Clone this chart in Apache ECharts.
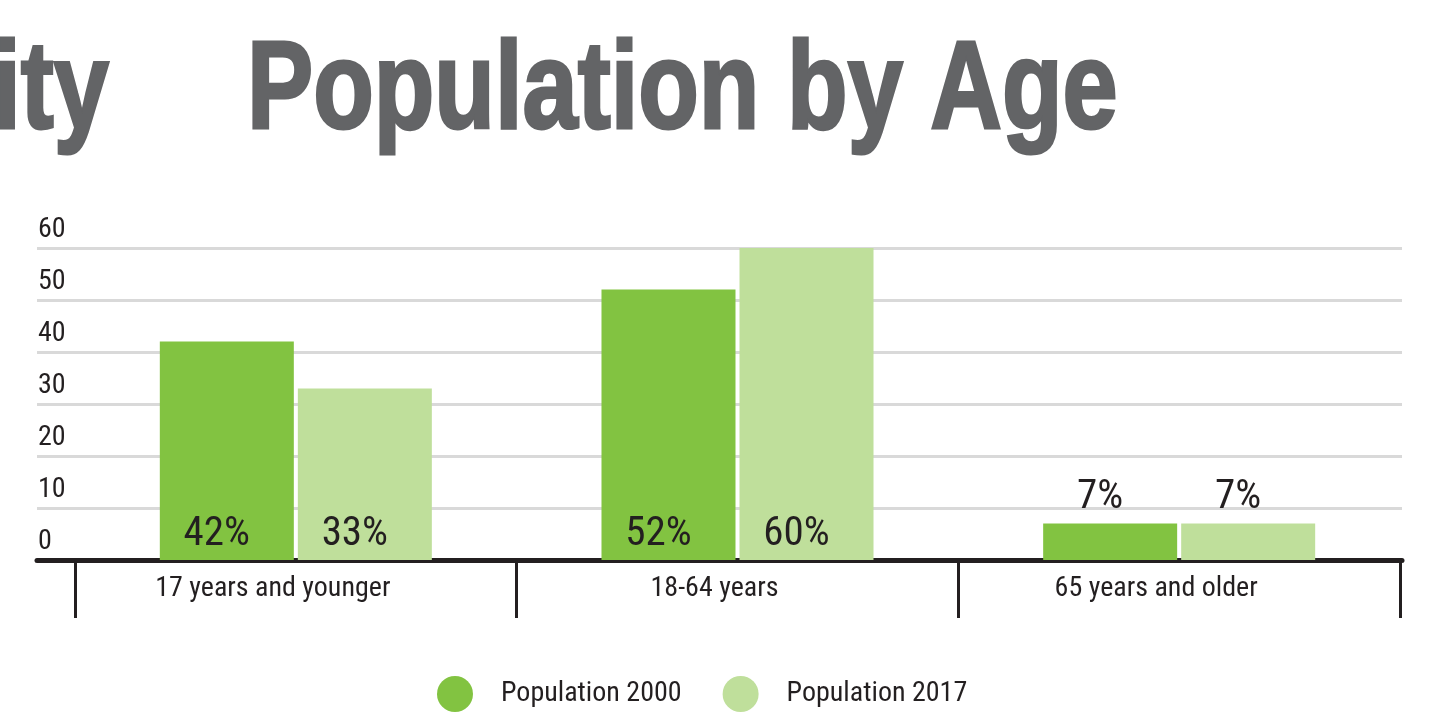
<!DOCTYPE html>
<html>
<head>
<meta charset="utf-8">
<script src="https://cdn.jsdelivr.net/npm/echarts@6/dist/echarts.min.js"></script>
<style>
  html, body { margin: 0; padding: 0; background: #fff; }
  #chart { width: 1449px; height: 712px; }
</style>
</head>
<body>
<div id="chart"></div>
<script>
// age groups and shares (%)
const categories = ['17 years and younger', '18-64 years', '65 years and older']
const pop2000 = [42, 52, 7]
const pop2017 = [33, 60, 7]
const seriesNames = ['Population 2000', 'Population 2017']
const yTicks = [0, 60, 10]   // min, max, interval

const NARROW = '"Roboto Condensed", "Liberation Sans", sans-serif'
const INK = '#231f20'
const TITLE_GREY = '#636466'

// small bars get their label on top, big ones inside at the bottom
const withLabels = (arr) => arr.map(v => ({
  value: v,
  label: { position: v < 15 ? 'top' : 'insideBottom' }
}))

const chart = echarts.init(document.getElementById('chart'))

// title is a heavy condensed face in the original; squeeze Liberation Sans Bold
// horizontally and thicken it a little with a same-colour stroke
const titleText = (txt, x, align) => ({
  type: 'text', x: x, y: 94, scaleX: 0.8, silent: true,
  style: {
    text: txt, align: align, verticalAlign: 'middle',
    fontFamily: 'Liberation Sans', fontWeight: 'bold', fontSize: 124,
    fill: TITLE_GREY, stroke: TITLE_GREY, lineWidth: 3
  }
})

const option = {
  animation: false,
  graphic: [
    titleText('Population by Age', 247, 'left'),
    titleText('City', 109, 'right')
  ],
  legend: {
    data: seriesNames,
    icon: 'circle',
    left: 432, top: 671,
    itemWidth: 36, itemHeight: 36,
    itemGap: 41,
    textStyle: { fontFamily: NARROW, fontSize: 28, color: INK, padding: [0, 0, 0, 23] }
  },
  grid: [
    // main plotting grid (category boundaries 75 .. 1400)
    { left: 75, right: 49, top: 248, bottom: 152 },
    // background grid for gridlines, y labels and the heavy baseline
    { left: 37, right: 47, top: 248, bottom: 152 }
  ],
  xAxis: [
    {
      type: 'category', gridIndex: 0, data: categories,
      axisLine: { show: false },
      axisTick: { show: true, length: 58, lineStyle: { color: INK, width: 3 } },
      axisLabel: { fontFamily: NARROW, fontSize: 28, color: INK, margin: 15, padding: [0, 46, 0, 0] },
      splitLine: { show: false }
    },
    {
      type: 'value', gridIndex: 1, min: 0, max: 1,
      axisLine: { show: true, lineStyle: { color: INK, width: 5 } },
      axisTick: { show: false }, axisLabel: { show: false }, splitLine: { show: false }
    }
  ],
  yAxis: [
    { type: 'value', gridIndex: 0, min: yTicks[0], max: yTicks[1], interval: yTicks[2], show: false },
    {
      type: 'value', gridIndex: 1, min: yTicks[0], max: yTicks[1], interval: yTicks[2],
      axisLine: { show: false }, axisTick: { show: false },
      axisLabel: {
        inside: true, margin: 1, verticalAlign: 'bottom', padding: [0, 0, 4, 0],
        fontFamily: NARROW, fontSize: 28, color: INK
      },
      splitLine: { lineStyle: { color: '#d9d9d9', width: 3 } }
    }
  ],
  series: [
    {
      name: seriesNames[0], type: 'bar', xAxisIndex: 0, yAxisIndex: 0,
      data: withLabels(pop2000),
      barWidth: 134, barGap: '3%',
      itemStyle: { color: '#82c341' },
      label: { show: true, formatter: '{c}%', distance: 5, offset: [-10, 0],
        fontFamily: NARROW, fontSize: 41, color: INK }
    },
    {
      name: seriesNames[1], type: 'bar', xAxisIndex: 0, yAxisIndex: 0,
      data: withLabels(pop2017),
      barWidth: 134, barGap: '3%',
      itemStyle: { color: '#bfdf9b' },
      label: { show: true, formatter: '{c}%', distance: 5, offset: [-10, 0],
        fontFamily: NARROW, fontSize: 41, color: INK }
    }
  ]
}

chart.setOption(option)
</script>
</body>
</html>
